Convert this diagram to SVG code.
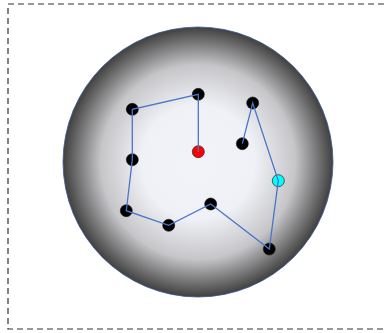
<svg xmlns="http://www.w3.org/2000/svg" width="387" height="333" viewBox="0 0 387 333">
<style>
.node{fill:#000;stroke:#111;stroke-width:0.6}
.link{stroke:#4a76c8;stroke-width:1.3;fill:none}
</style>
<defs>
<radialGradient id="g" cx="0.5" cy="0.5" r="0.5">
<stop offset="0" stop-color="#f2f3f9"/>
<stop offset="0.42" stop-color="#f0f1f6"/>
<stop offset="0.72" stop-color="#c6c6c9"/>
<stop offset="1" stop-color="#404040"/>
</radialGradient>
</defs>
<rect x="8" y="4" width="400" height="325" fill="#fff" stroke="#333" stroke-width="1.2" stroke-dasharray="6,4"/>
<circle id="sphere" cx="198" cy="162" r="135" fill="url(#g)" stroke="#3a5a9a" stroke-width="0.8"/>
<g id="n0"><circle cx="198.3" cy="151.7" r="6" fill="#f00" stroke="#333" stroke-width="0.8"/></g>
<g id="n1"><circle class="node" cx="198.3" cy="94.3" r="6"/></g>
<g id="n2"><circle class="node" cx="132.3" cy="109.3" r="6"/></g>
<g id="n3"><circle class="node" cx="132.3" cy="159.7" r="6"/></g>
<g id="n4"><circle class="node" cx="126.3" cy="210.7" r="6"/></g>
<g id="n5"><circle class="node" cx="168.7" cy="225.3" r="6"/></g>
<g id="n6"><circle class="node" cx="210.7" cy="204" r="6"/></g>
<g id="n7"><circle class="node" cx="269.3" cy="249" r="6"/></g>
<g id="n8"><circle cx="278.3" cy="180.7" r="6" fill="#0ff" stroke="#333" stroke-width="0.8"/></g>
<g id="n9"><circle class="node" cx="252.7" cy="103" r="6"/></g>
<g id="n10"><circle class="node" cx="242.3" cy="143.7" r="6"/></g>
<g id="connectors">
<polyline class="link" points="198.3,151.7 198.3,94.3 132.3,109.3 132.3,159.7 126.3,210.7 168.7,225.3 210.7,204 269.3,249 278.3,180.7 252.7,103 242.3,143.7"/>
</g>
</svg>
